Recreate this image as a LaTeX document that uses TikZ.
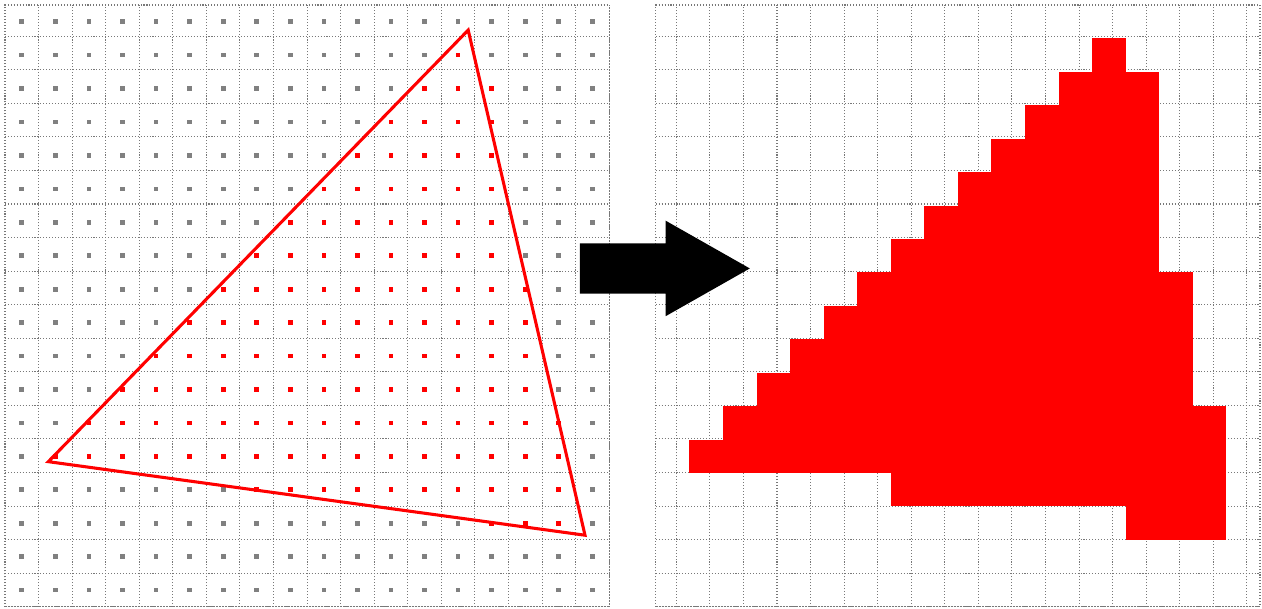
\documentclass[tikz,border=0pt]{standalone}
\definecolor{gridgray}{RGB}{120,120,120}
\definecolor{dotgray}{RGB}{128,128,128}
\definecolor{pixred}{RGB}{255,0,0}
\begin{document}
\begin{tikzpicture}[x=1cm,y=0.996cm,
  gridline/.style={draw=gridgray,line width=0.9pt,dash pattern=on 0.9pt off 1.6pt},
  edgeline/.style={draw=pixred,line width=2.6pt,line join=miter}]
  \useasboundingbox (-0.149,-0.04) rectangle (37.45,18.15);
  \def\rightx{19.39}
  \draw[gridline] (0,0) grid (18,18);
  \draw[gridline] (0,0) rectangle (18,18);
  \foreach \i in {0,...,17}
    \foreach \j in {0,...,17}
      \fill[dotgray] (\i+0.43,\j+0.43) rectangle ++(0.14,0.14);
  \foreach \r/\a/\b in {1/13/13,2/12/14,3/11/14,4/10/14,5/9/14,6/8/14,7/7/14,8/6/15,
      9/5/15,10/4/15,11/3/15,12/2/16,13/1/16,14/7/16,15/14/16} {
    \foreach \c in {\a,...,\b}
      \fill[pixred] (\c+0.43,17.43-\r) rectangle ++(0.14,0.14);
  }
  \coordinate (apex) at (13.80,17.25);
  \coordinate (west) at (1.29,4.34);
  \coordinate (east) at (17.28,2.14);
  \draw[edgeline] (apex) -- (west) -- (east) -- cycle;
  \draw[gridline] (\rightx,0) grid (\rightx+18,18);
  \draw[gridline] (\rightx,0) rectangle (\rightx+18,18);
  \foreach \r/\a/\b in {1/13/13,2/12/14,3/11/14,4/10/14,5/9/14,6/8/14,7/7/14,8/6/15,
      9/5/15,10/4/15,11/3/15,12/2/16,13/1/16,14/7/16,15/14/16}
    \fill[pixred] (\rightx+\a,17-\r) rectangle (\rightx+\b+1,18-\r);
  \fill[black] (17.13,10.87) -- (19.68,10.87) -- (19.68,11.55) -- (22.19,10.12)
    -- (19.68,8.69) -- (19.68,9.37) -- (17.13,9.37) -- cycle;
\end{tikzpicture}
\end{document}
